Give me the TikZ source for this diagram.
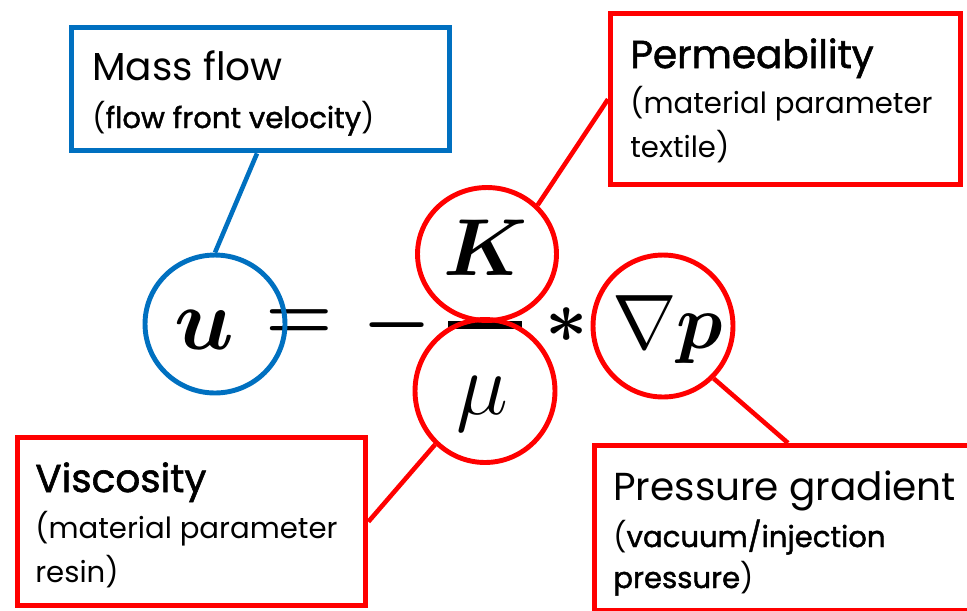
\RequirePackage{fix-cm}
\documentclass[tikz,border=0pt]{standalone}
\usepackage[no-math]{fontspec}
\setmainfont{Poppins}
\newfontfamily\medfont[RawFeature={embolden=1.5}]{Poppins}
\usepackage{bm}
\usetikzlibrary{shapes.geometric,calc}
\definecolor{boxblue}{RGB}{0,112,192}
\definecolor{boxred}{RGB}{255,0,0}
\newcommand{\md}[1]{{\medfont #1}}

\begin{document}
\begin{tikzpicture}[x=0.02cm, y=-0.02cm,
  box/.style={draw, line width=3.1pt, anchor=north west, inner sep=0pt},
  ring/.style={draw, ellipse, line width=2.8pt, inner sep=0pt},
  link/.style={line width=2.6pt},
  title/.style={anchor=base west, inner sep=0pt, font=\fontsize{22.2}{26}\selectfont},
  note/.style={anchor=base west, inner sep=0pt, font=\fontsize{16.6}{24}\selectfont},
  sym/.style={inner sep=0pt, font=\fontsize{50}{60}\selectfont},
  op/.style={inner sep=0pt, font=\fontsize{44}{50}\selectfont}]
\useasboundingbox (0,0) rectangle (967,610);
% boxes
\node[box, boxblue, minimum width=7.56cm, minimum height=2.46cm] (mass) at (69,25) {};
\node[box, boxred, minimum width=7cm, minimum height=3.42cm] (perm) at (608,11) {};
\node[box, boxred, minimum width=6.96cm, minimum height=3.36cm] (visc) at (15,435) {};
\node[box, boxred, minimum width=8.4cm, minimum height=3.3cm] (press) at (592,443) {};
% texts
\node[title] (masst) at (92,80) {Mass flow};
\node[note] (massn) at (92,128) {(\md{flow front velocity})};
\node[title] (permt) at (630,68) {\md{Permeability}};
\node[note] (permn) at (630,113) {(material parameter};
\node[note] (permm) at (630,157) {textile)};
\node[title] (visct) at (35,492) {\md{Viscosity}};
\node[note] (viscn) at (35,538) {(material parameter};
\node[note] (viscm) at (35,582) {resin)};
\node[title] (presst) at (613,500) {Pressure gradient};
\node[note] (pressn) at (613,547) {(\md{vacuum/injection}};
\node[note] (pressm) at (613,588) {\md{pressure})};
% equation
\node[sym] (u) at (204,330) {$\bm{u}$};
\node[op] (eq) at (299,325) {$\bm{=}$};
\node[op] (minus) at (397,325) {$\bm{-}$};
\draw[line width=4pt] (448,325) -- (522,325);
\node[op, font=\fontsize{42}{46}\selectfont] (star) at (567,325) {$\bm{\ast}$};
\node[sym, font=\fontsize{46}{50}\selectfont] (K) at (486,248) {$\bm{K}$};
\node[sym] (mu) at (482,404) {$\mu$};
\node[sym, font=\fontsize{44}{50}\selectfont] (gradp) at (668,330) {$\nabla\bm{p}$};
\node[ring, boxblue, minimum width=2.8cm, minimum height=2.76cm] (cu) at (215,324) {};
\node[ring, boxred, minimum width=2.78cm, minimum height=2.66cm] (cK) at (487,254) {};
\node[ring, boxred, minimum width=2.8cm, minimum height=2.86cm] (cmu) at (485,391) {};
\node[ring, boxred, minimum width=2.8cm, minimum height=2.84cm] (cp) at (663,326) {};
% leaders
\draw[link, boxblue] (cu.north) -- ($(mass.south west)+(188,0)$);
\draw[link, boxred] (cK.44) -- (perm.west);
\draw[link, boxred] (cmu.227) -- (visc.east);
\draw[link, boxred] (cp.314) -- ($(press.north west)+(196,0)$);
\end{tikzpicture}
\end{document}
